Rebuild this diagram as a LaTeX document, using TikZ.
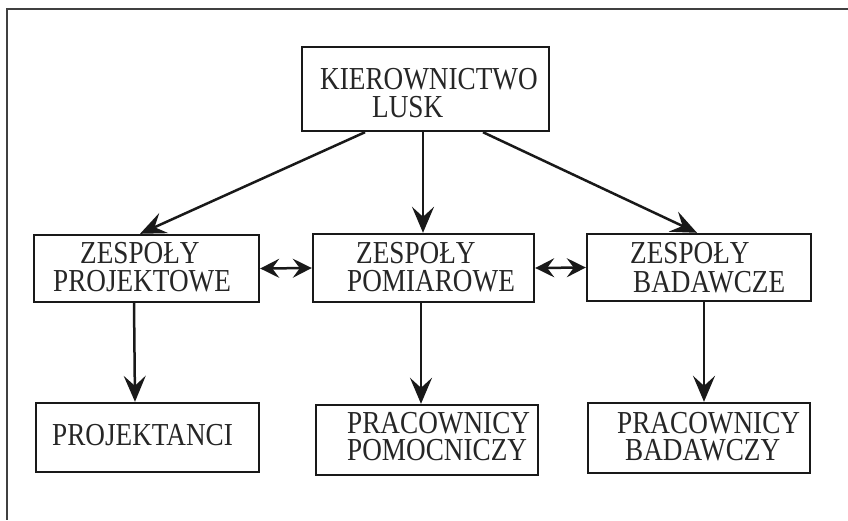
\documentclass[tikz,border=0pt]{standalone}
\usepackage{fontspec}
\setmainfont{Liberation Serif}[FakeStretch=0.85]
\usetikzlibrary{arrows.meta}
\begin{document}
\begin{tikzpicture}[x=1pt,y=-1pt,
  box/.style={draw=black!90, line width=2.4pt, rectangle, inner sep=0pt},
  txt/.style={anchor=base west, inner sep=0pt, text height=21pt, text depth=0pt, text=black!85, font=\fontsize{32}{28}\selectfont},
  arr/.style={draw=black!90, line width=2.5pt, -{Stealth[length=26pt,width=22pt,inset=10pt]}},
  darr/.style={draw=black!90, line width=2.5pt, {Stealth[length=19pt,width=19pt,inset=7pt]}-{Stealth[length=19pt,width=19pt,inset=7pt]}},
  frame/.style={draw=black!75, line width=1.5pt}]
\useasboundingbox (0,0) rectangle (848,520);
\fill[white] (0,0) rectangle (848,520);
% outer frame (top and left)
\draw[frame] (848,9) -- (7,9) -- (7,520);
% boxes
\node[box, minimum width=247pt, minimum height=84pt] (k) at (425.5,89) {};
\node[box, minimum width=225pt, minimum height=67pt] (zp) at (146.5,268.5) {};
\node[box, minimum width=221pt, minimum height=68pt] (zm) at (423.5,268) {};
\node[box, minimum width=224pt, minimum height=67pt] (zb) at (699,267.5) {};
\node[box, minimum width=223pt, minimum height=69pt] (pj) at (147.5,437.5) {};
\node[box, minimum width=222pt, minimum height=70pt] (pp) at (427,440) {};
\node[box, minimum width=222pt, minimum height=70pt] (pb) at (699,438) {};
% texts
\node[txt] (k1) at (320,89) {KIEROWNICTWO};
\node[txt] (k2) at (372,117) {LUSK};
\node[txt] (zp1) at (80,263) {ZESPOŁY};
\node[txt] (zp2) at (53,291) {PROJEKTOWE};
\node[txt] (zm1) at (356,263) {ZESPOŁY};
\node[txt] (zm2) at (347,291) {POMIAROWE};
\node[txt] (zb1) at (630,263) {ZESPOŁY};
\node[txt] (zb2) at (633,292) {BADAWCZE};
\node[txt] (pj1) at (52,445) {PROJEKTANCI};
\node[txt] (pp1) at (347,433) {PRACOWNICY};
\node[txt] (pp2) at (347,460) {POMOCNICZY};
\node[txt] (pb1) at (617,433) {PRACOWNICY};
\node[txt] (pb2) at (625,460) {BADAWCZY};
% connectors
\draw[arr] ([xshift=-60.5pt]k.south) -- ([xshift=-6.5pt]zp.north);
\draw[arr] ([xshift=-2.5pt]k.south) -- ([xshift=-0.5pt]zm.north);
\draw[arr] ([xshift=57.5pt]k.south) -- ([xshift=-2pt]zb.north);
\draw[darr] (zp.east) -- (zm.west);
\draw[darr] (zm.east) -- (zb.west);
\draw[arr] ([xshift=-12.5pt]zp.south) -- ([xshift=-12.5pt]pj.north);
\draw[arr] ([xshift=-2.5pt]zm.south) -- ([xshift=-6pt]pp.north);
\draw[arr] ([xshift=5pt]zb.south) -- ([xshift=5pt]pb.north);
\end{tikzpicture}
\end{document}
